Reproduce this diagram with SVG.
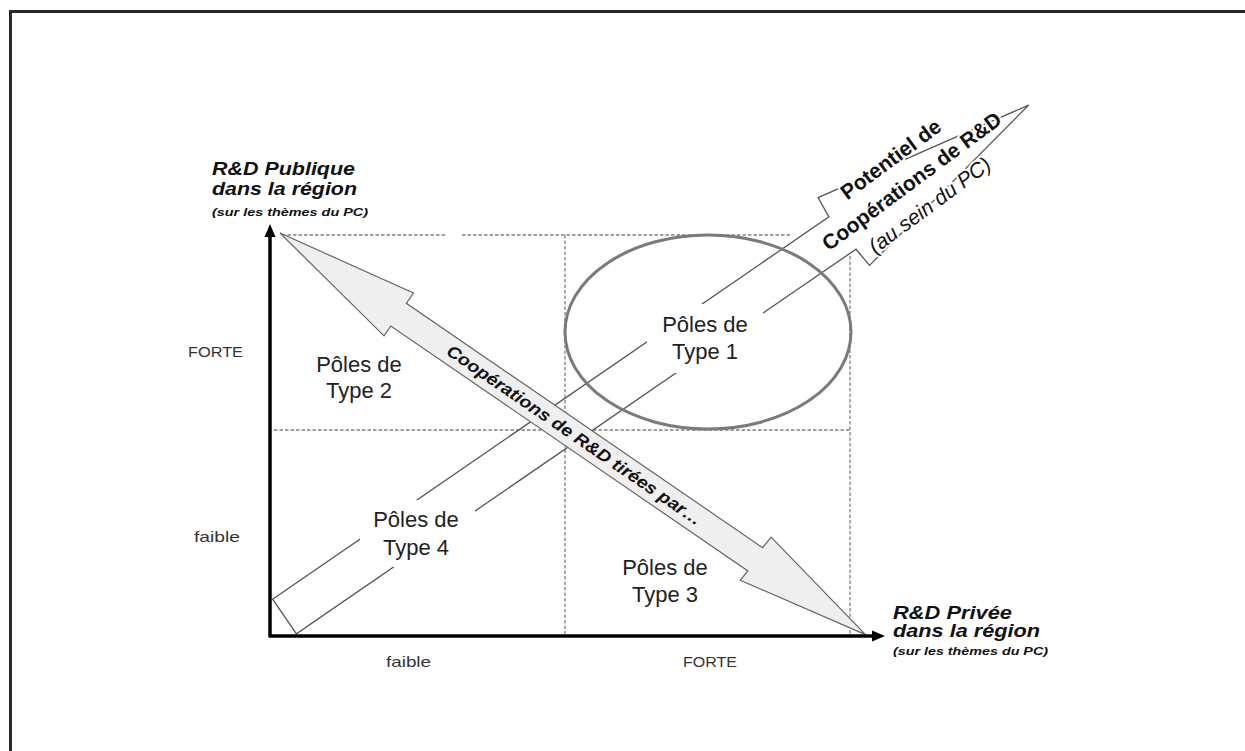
<svg xmlns="http://www.w3.org/2000/svg" width="1245" height="751" viewBox="0 0 1245 751">
<defs>
<style>
.grid{stroke:#808080;stroke-width:1.3;stroke-dasharray:3.5 2;fill:none}
.axis{stroke:#000;stroke-width:3.5;fill:none}
.lbl{font-family:"Liberation Sans",Arial,sans-serif;font-size:22px;fill:#222;text-anchor:middle}
.tick{font-family:"Liberation Sans",Arial,sans-serif;font-size:15px;fill:#333}
.ax1{font-family:"Liberation Sans",Arial,sans-serif;font-weight:bold;font-style:italic;font-size:18px;fill:#111}
.ax2{font-family:"Liberation Sans",Arial,sans-serif;font-weight:bold;font-style:italic;font-size:10.5px;fill:#111}
.pot{font-family:"Liberation Sans",Arial,sans-serif;font-size:21px;fill:#111;text-anchor:middle;stroke:#fff;stroke-width:4;paint-order:stroke;stroke-linejoin:round}
</style>
</defs>
<rect x="0" y="0" width="1245" height="751" fill="#fff"/>
<rect x="10.5" y="11.5" width="1300" height="800" fill="none" stroke="#2a2a2a" stroke-width="3"/>

<g id="grid">
<line class="grid" x1="282" y1="235" x2="447" y2="235"/>
<line class="grid" x1="462" y1="235" x2="792" y2="235"/>
<line class="grid" x1="565" y1="235" x2="565" y2="634"/>
<line class="grid" x1="850" y1="256" x2="850" y2="634"/>
<line class="grid" x1="274" y1="430" x2="850" y2="430"/>
</g>

<g id="potentiel-arrow">
<polygon transform="translate(284.5,616.5) rotate(-34.5)" points="0,-21 675,-21 677,-43 903,0 681,42 679,21 0,21" fill="none" stroke="#555" stroke-width="1.3"/>
</g>

<g id="label-masks" fill="#fff">
<rect x="360" y="500" width="115" height="67"/>
<rect x="647" y="304" width="116" height="69"/>
</g>

<g id="type1">
<ellipse cx="708" cy="332" rx="143" ry="97" fill="none" stroke="#7a7a7a" stroke-width="3"/>
<text class="lbl" x="705" y="332">Pôles de</text>
<text class="lbl" x="705" y="359">Type 1</text>
</g>

<g id="cooperations-arrow">
<polygon transform="translate(280,233) rotate(34.45)" points="0,0 144,-26 144,-13.5 576,-13.5 577,-27 710,0 576,26 577,14 144,14 144,26" fill="#efefef" stroke="#666" stroke-width="1.2"/>
<text transform="translate(280,233) rotate(34.45)" x="357" y="6" font-family="'Liberation Sans',Arial,sans-serif" font-weight="bold" font-style="italic" font-size="17" fill="#111" text-anchor="middle" textLength="305" lengthAdjust="spacingAndGlyphs">Coopérations de R&amp;D tirées par…</text>
</g>

<g id="axes">
<line class="axis" x1="270" y1="636" x2="270" y2="236"/>
<polygon points="270,224 264.5,237 275.5,237" fill="#000"/>
<line class="axis" x1="268.5" y1="636" x2="873" y2="636"/>
<polygon points="885,636 872,630.5 872,641.5" fill="#000"/>
</g>

<g id="type2">
<text class="lbl" x="359" y="372">Pôles de</text>
<text class="lbl" x="359" y="398">Type 2</text>
</g>
<g id="type3">
<text class="lbl" x="665" y="575">Pôles de</text>
<text class="lbl" x="665" y="602">Type 3</text>
</g>
<g id="type4">
<text class="lbl" x="416" y="527">Pôles de</text>
<text class="lbl" x="416" y="555">Type 4</text>
</g>

<g id="potentiel-label">
<text class="pot" font-weight="bold" transform="rotate(-36.5 895 165)" x="895" y="165">Potentiel de</text>
<text class="pot" font-weight="bold" transform="rotate(-36.5 916 187)" x="916" y="187">Coopérations de R&amp;D</text>
<text class="pot" font-style="italic" transform="rotate(-36.5 934 211)" x="934" y="211">(au sein du PC)</text>
</g>

<g id="y-axis-label">
<text class="ax1" x="212" y="175" textLength="143" lengthAdjust="spacingAndGlyphs">R&amp;D Publique</text>
<text class="ax1" x="212" y="195" textLength="145" lengthAdjust="spacingAndGlyphs">dans la région</text>
<text class="ax2" x="212" y="216" textLength="156" lengthAdjust="spacingAndGlyphs">(sur les thèmes du PC)</text>
</g>
<g id="x-axis-label">
<text class="ax1" x="893" y="619" textLength="119" lengthAdjust="spacingAndGlyphs">R&amp;D Privée</text>
<text class="ax1" x="893" y="637" textLength="147" lengthAdjust="spacingAndGlyphs">dans la région</text>
<text class="ax2" x="893" y="655" textLength="155" lengthAdjust="spacingAndGlyphs">(sur les thèmes du PC)</text>
</g>

<g id="ticks">
<text class="tick" x="188" y="357" textLength="55" lengthAdjust="spacingAndGlyphs">FORTE</text>
<text class="tick" x="194" y="542" textLength="46" lengthAdjust="spacingAndGlyphs">faible</text>
<text class="tick" x="386" y="667" textLength="45" lengthAdjust="spacingAndGlyphs">faible</text>
<text class="tick" x="683" y="667" textLength="54" lengthAdjust="spacingAndGlyphs">FORTE</text>
</g>
</svg>
